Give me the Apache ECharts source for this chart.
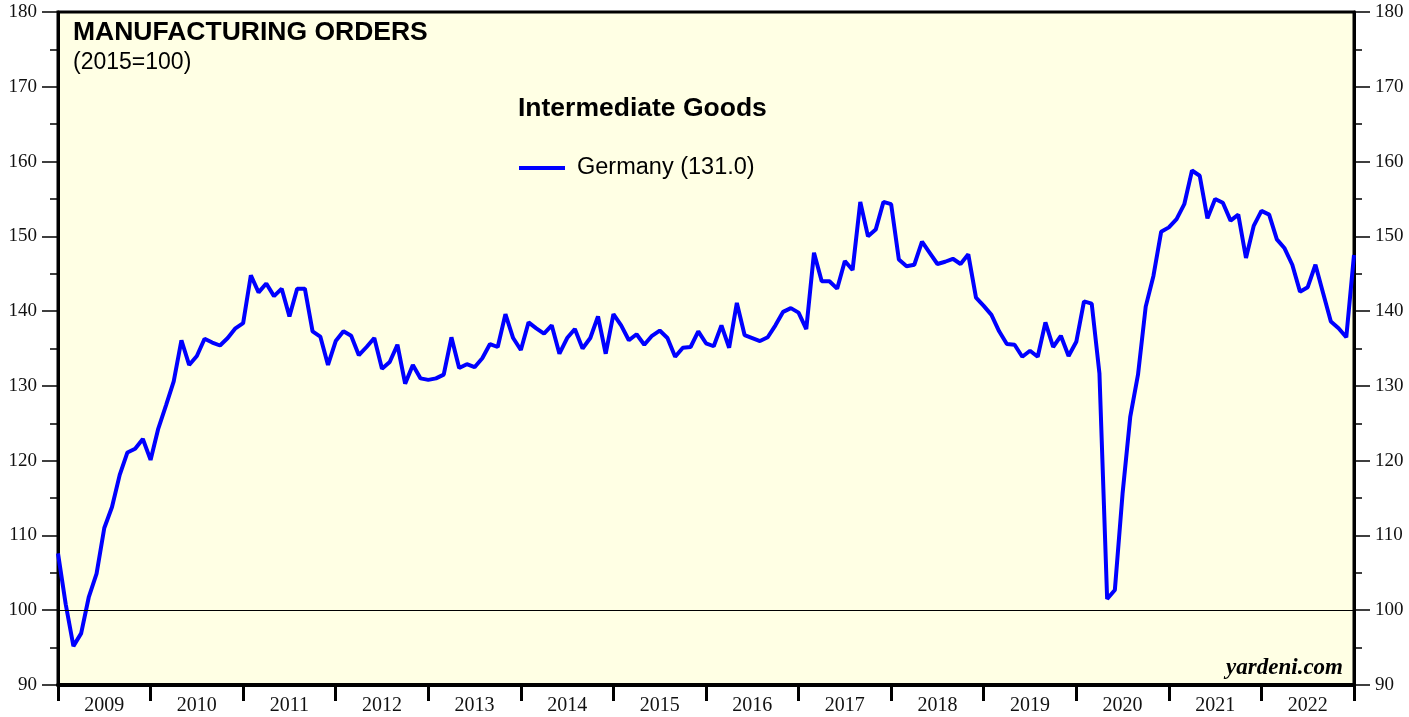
<!DOCTYPE html>
<html>
<head>
<meta charset="utf-8">
<script src="https://cdn.jsdelivr.net/npm/echarts@6/dist/echarts.min.js"></script>
<style>
  body { margin: 0; background: #fff; }
  #main { width: 1409px; height: 717px; }
</style>
</head>
<body>
<div id="main"></div>
<script>
// years shown on the x axis (2023 only holds the January point)
const years = [2009, 2010, 2011, 2012, 2013, 2014, 2015, 2016, 2017, 2018, 2019, 2020, 2021, 2022];

// Germany, intermediate goods orders (2015=100), monthly
const y2009 = [107.6, 100.8, 95.2, 96.9, 101.8, 104.9, 111.0, 113.8, 118.1, 121.1, 121.6, 122.9];
const y2010 = [120.1, 124.3, 127.4, 130.6, 136.1, 132.8, 134.0, 136.3, 135.8, 135.4, 136.4, 137.7];
const y2011 = [138.4, 144.8, 142.5, 143.7, 142.0, 143.0, 139.3, 143.0, 143.0, 137.3, 136.6, 132.8];
const y2012 = [136.0, 137.3, 136.7, 134.1, 135.2, 136.4, 132.3, 133.2, 135.5, 130.3, 132.8, 131.0];
const y2013 = [130.8, 131.0, 131.5, 136.5, 132.4, 132.9, 132.5, 133.7, 135.6, 135.2, 139.6, 136.4];
const y2014 = [134.8, 138.5, 137.7, 137.0, 138.1, 134.3, 136.4, 137.6, 135.0, 136.4, 139.3, 134.3];
const y2015 = [139.6, 138.1, 136.1, 136.9, 135.5, 136.7, 137.4, 136.4, 133.9, 135.1, 135.2, 137.3];
const y2016 = [135.7, 135.3, 138.1, 135.1, 141.1, 136.8, 136.4, 136.0, 136.5, 138.1, 139.9, 140.4];
const y2017 = [139.8, 137.6, 147.8, 144.0, 144.0, 143.0, 146.7, 145.5, 154.6, 150.0, 150.9, 154.6];
const y2018 = [154.3, 146.9, 146.0, 146.2, 149.3, 147.8, 146.3, 146.6, 147.0, 146.3, 147.6, 141.8];
const y2019 = [140.7, 139.5, 137.3, 135.6, 135.5, 133.9, 134.7, 133.9, 138.5, 135.2, 136.7, 134.0];
const y2020 = [135.9, 141.3, 141.0, 131.7, 101.5, 102.7, 115.6, 125.9, 131.5, 140.6, 144.7, 150.6];
const y2021 = [151.2, 152.3, 154.3, 158.8, 158.1, 152.4, 155.0, 154.5, 152.1, 152.9, 147.1, 151.4];
const y2022 = [153.4, 152.9, 149.6, 148.4, 146.2, 142.6, 143.2, 146.2, 142.4, 138.6, 137.7, 136.5];
const y2023 = [147.5];

const germany = [].concat(y2009, y2010, y2011, y2012, y2013, y2014, y2015,
    y2016, y2017, y2018, y2019, y2020, y2021, y2022, y2023);

// month categories, 2009-01 .. 2023-01
var months = [];
for (var i = 0; i < years.length; i++) {
    for (var m = 1; m <= 12; m++) {
        months.push(years[i] + '-' + (m < 10 ? '0' + m : m));
    }
}
months.push('2023-01');

const serif = '"Liberation Serif", "DejaVu Serif", serif';
const sans = '"Liberation Sans", Arial, sans-serif';

function yAxisOpt(pos) {
    return {
        type: 'value',
        position: pos,
        min: 90,
        max: 180,
        interval: 10,
        axisLine: { show: true, lineStyle: { color: '#000', width: 3 } },
        axisTick: { show: true, inside: false, length: 16, lineStyle: { color: '#000', width: 1.5 } },
        minorTick: { show: true, splitNumber: 2, length: 8, lineStyle: { color: '#000', width: 1.5 } },
        splitLine: { show: false },
        axisLabel: { color: '#111', fontFamily: serif, fontSize: 19, margin: 21 }
    };
}

var dom = document.getElementById('main');
var myChart = echarts.init(dom, null, { renderer: 'canvas' });

var option = {
    animation: false,
    backgroundColor: '#fff',
    grid: {
        left: 58, right: 55, top: 12, bottom: 32,
        show: true,
        backgroundColor: '#FFFFE4',
        borderColor: '#000',
        borderWidth: 3
    },
    title: {
        text: 'MANUFACTURING ORDERS',
        subtext: '(2015=100)',
        left: 73,
        top: 19,
        padding: 0,
        itemGap: 5,
        textStyle: { fontFamily: sans, fontSize: 26.5, fontWeight: 'bold', color: '#000' },
        subtextStyle: { fontFamily: sans, fontSize: 23, color: '#000' }
    },
    legend: {
        left: 514,
        top: 151,
        icon: 'rect',
        itemWidth: 46,
        itemHeight: 4,
        itemGap: 14,
        textStyle: { fontFamily: sans, fontSize: 23.5, color: '#000', padding: [0, 0, 0, 7] },
        data: ['Germany (131.0)']
    },
    graphic: [
        {
            type: 'text', left: 518, top: 95,
            style: { text: 'Intermediate Goods', font: 'bold 26.5px ' + sans, fill: '#000' }
        },
        {
            type: 'text', right: 66, top: 657,
            style: { text: 'yardeni.com', font: 'italic bold 23px ' + serif, fill: '#000' }
        }
    ],
    xAxis: {
        type: 'category',
        data: months,
        boundaryGap: false,
        axisLine: { lineStyle: { color: '#000', width: 4 } },
        axisTick: {
            show: true,
            length: 16,
            interval: function (index) { return index % 12 === 0; },
            lineStyle: { color: '#000', width: 3 }
        },
        axisLabel: {
            interval: function (index) { return index % 12 === 6; },
            formatter: function (v) { return v.slice(0, 4); },
            color: '#111',
            fontFamily: serif,
            fontSize: 20,
            margin: 11
        },
        splitLine: { show: false }
    },
    yAxis: [yAxisOpt('left'), yAxisOpt('right')],
    series: [
        {
            name: 'Germany (131.0)',
            type: 'line',
            data: germany,
            showSymbol: false,
            symbol: 'none',
            color: '#0000FF',
            lineStyle: { color: '#0000FF', width: 4 },
            markLine: {
                silent: true,
                symbol: 'none',
                label: { show: false },
                lineStyle: { color: '#000', width: 1, type: 'solid' },
                data: [{ yAxis: 100 }]
            },
            z: 3
        }
    ]
};

if (option && typeof option === 'object') {
    myChart.setOption(option);
}
</script>
</body>
</html>
